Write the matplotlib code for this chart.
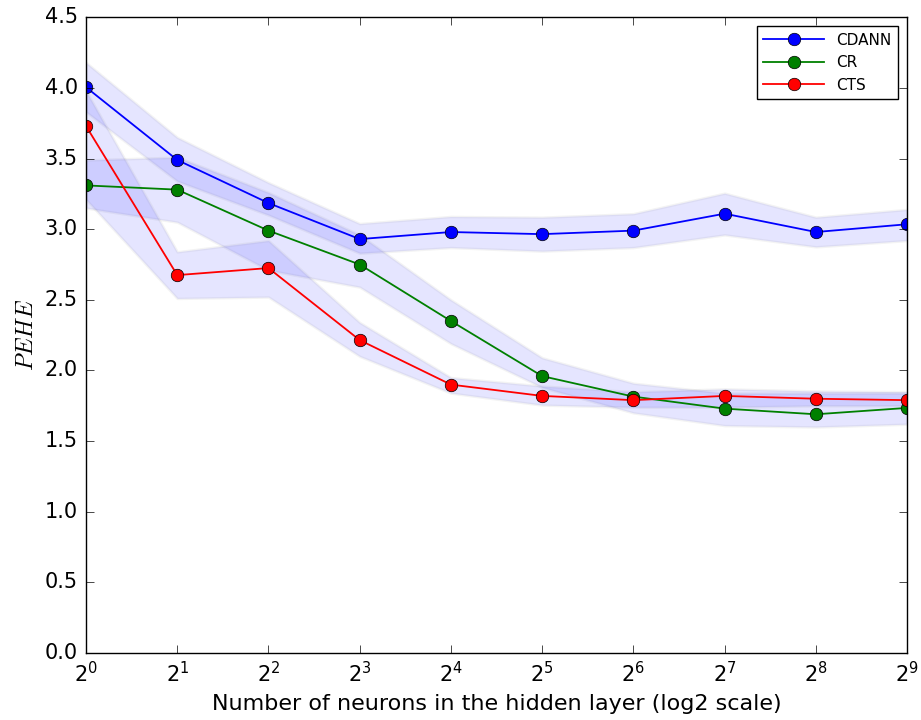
import numpy as np
import matplotlib
matplotlib.use("Agg")
import matplotlib.pyplot as plt

plt.style.use("classic")
plt.rcParams["mathtext.fontset"] = "cm"

# Hidden layer sizes as powers of two
exponents = [0, 1, 2, 3, 4, 5, 6, 7, 8, 9]

cdann = [4.005, 3.49, 3.185, 2.93, 2.98, 2.965, 2.99, 3.11, 2.98, 3.035]
cdann_lo = [3.83, 3.34, 3.10, 2.83, 2.87, 2.845, 2.87, 2.96, 2.875, 2.92]
cdann_hi = [4.18, 3.65, 3.33, 3.04, 3.09, 3.085, 3.11, 3.255, 3.085, 3.14]

cr = [3.31, 3.28, 2.99, 2.75, 2.35, 1.96, 1.815, 1.73, 1.69, 1.735]
cr_lo = [3.15, 3.05, 2.71, 2.59, 2.19, 1.88, 1.70, 1.61, 1.60, 1.62]
cr_hi = [3.49, 3.51, 3.26, 2.96, 2.50, 2.09, 1.91, 1.84, 1.84, 1.84]

cts = [3.73, 2.675, 2.725, 2.215, 1.90, 1.82, 1.79, 1.82, 1.80, 1.79]
cts_lo = [3.21, 2.51, 2.52, 2.10, 1.84, 1.755, 1.74, 1.74, 1.75, 1.75]
cts_hi = [3.98, 2.84, 2.92, 2.34, 1.95, 1.89, 1.85, 1.87, 1.855, 1.85]

series = [
    ("CDANN", cdann, cdann_lo, cdann_hi, "b"),
    ("CR", cr, cr_lo, cr_hi, "g"),
    ("CTS", cts, cts_lo, cts_hi, "r"),
]

x = 2.0 ** np.array(exponents)

fig = plt.figure(figsize=(9.21, 7.2), dpi=100, facecolor="white")
ax = fig.add_axes([0.0934, 0.093, 0.8915, 0.883])

for name, vals, lo, hi, col in series:
    ax.fill_between(x, lo, hi, facecolor="b", edgecolor="#8c8c8c", alpha=0.1, linewidth=1.8)

for name, vals, lo, hi, col in series:
    ax.plot(x, vals, "-o", color=col, markerfacecolor=col, markeredgecolor="k",
            markersize=9, linewidth=1.3, label=name)

ax.set_xscale("log", base=2)
ax.set_xlim(1, 512)
ax.set_ylim(0, 4.5)
ax.set_xticks(x)
ax.set_xticklabels([r"$\mathdefault{2^{%d}}$" % e for e in exponents])
ax.xaxis.set_minor_locator(matplotlib.ticker.NullLocator())
ax.set_yticks(np.arange(0, 4.51, 0.5))
ax.tick_params(labelsize=15, direction="in", length=6, pad=6)

ax.set_xlabel("Number of neurons in the hidden layer (log2 scale)", fontsize=16)
ax.set_ylabel(r"$PEHE$", fontsize=17, labelpad=5)

ax.legend(loc="upper right", numpoints=1, fontsize=11, frameon=True,
          handlelength=4, borderaxespad=0.6)

fig.savefig("out.png", dpi=100, facecolor="white")
